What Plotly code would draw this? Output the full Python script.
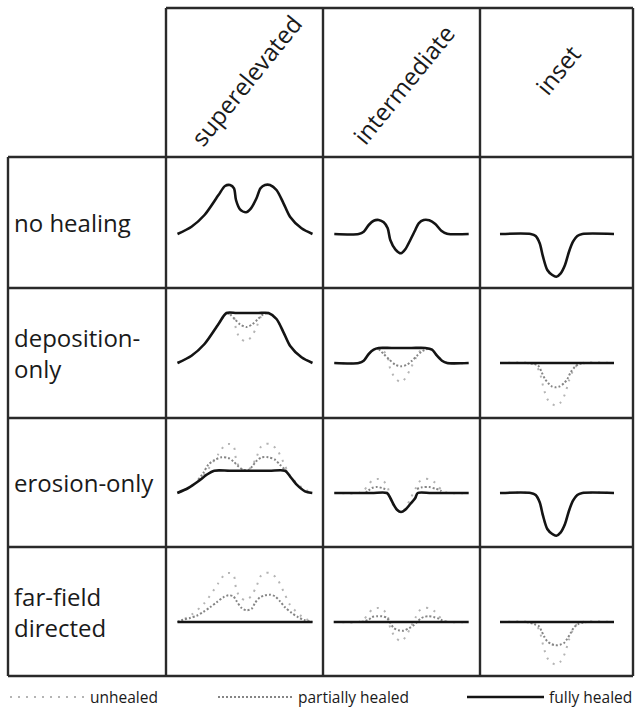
"""Channel-profile healing scenarios drawn as a 4x3 table of small profiles."""

import plotly.graph_objects as go

W, H = 635, 711
FONT = "Open Sans"

# table geometry (pixels)
COL_EDGES = [166, 323, 480, 633]
ROW_EDGES = [157, 288, 418, 547, 676]
BASELINES = [234, 363, 493, 622]
LABEL_LEFT = 8
HEADER_TOP = 8

COLUMNS = ["superelevated", "intermediate", "inset"]
ROWS = ["no healing", "deposition-<br>only", "erosion-only", "far-field<br>directed"]

# unhealed profiles: distance from cell centre, elevation above floodplain
SUPER_X = [-67, -53, -40, -26, -19.5, -14.5, -10.5, -8.5, -4.5, 1.5, 6.5, 12, 16, 20.5, 25.5, 32, 39, 45.5, 57, 68]
SUPER_Z = [0, 7.3, 19, 39, 48, 49, 45.7, 34, 24.7, 21.7, 25.7, 35.7, 45.7, 49, 49, 44, 30.7, 17.3, 5.7, 0]
INTER_X = [-67.2, -42.8, -37.8, -32.8, -27.8, -22.8, -17.8, -13.8, -11.2, -6.2, -0.5, 3.8, 8.8, 13.8, 17.2, 22.2, 27.8, 33.8, 39.8, 45.5, 67.2]
INTER_Z = [0, 0, 2.3, 9, 13.3, 14, 11.7, 5.7, -6, -15.3, -19.3, -15.3, -6, 4, 10.7, 14, 13.7, 10, 3.3, 0.3, 0]
INSET_X = [-56.5, -25.8, -20.8, -16.8, -13.5, -9.2, -4.2, -0.2, 4.2, 8.5, 12.5, 16.5, 20.8, 25.8, 57.5]
INSET_Z = [0, 0, -2, -9.3, -22.7, -36, -41, -42.7, -39.3, -31, -17.7, -7.7, -2, 0, 0]

# deposition-only
SUPER_DEP_FULL_X = [-67, -53, -40, -26, -18, -8, 4, 14, 24, 32, 39, 45.5, 57, 68]
SUPER_DEP_FULL_Z = [0, 7.3, 19, 39, 50, 50, 50, 50, 50, 44, 30.7, 17.3, 5.7, 0]
SUPER_DEP_PART_X = [-18, -14.5, -9.5, -4.5, 2.2, 7.8, 13.2, 18.8, 24]
SUPER_DEP_PART_Z = [50, 48.7, 43.7, 38.7, 36, 38.7, 43.7, 48.7, 50]
INTER_DEP_FULL_X = [-67.2, -42.8, -37.8, -32.8, -27.8, -22.8, -10, 10, 23.8, 30.5, 35.5, 40.5, 45.5, 67.2]
INTER_DEP_FULL_Z = [0, 0, 2.3, 9, 13.3, 15, 15, 15, 15, 13.3, 7.3, 2.3, 0, 0]
INTER_DEP_PART_X = [-22.8, -17.8, -12.8, -6.2, -0.5, 5.5, 10.5, 15.5, 20.5, 25.5]
INTER_DEP_PART_Z = [14, 9, 4, -1.7, -3.3, -1.7, 2.3, 7.3, 11.7, 14]
INSET_DEP_FULL_X = [-56.5, 57.5]
INSET_DEP_FULL_Z = [0, 0]
INSET_DEP_PART_X = [-30, -22.5, -18.2, -14.8, -11.5, -8.2, -4.8, -0.8, 3.2, 7.5, 10.8, 14.2, 18.5, 22.5, 30]
INSET_DEP_PART_Z = [0, -1, -2.7, -9.3, -16, -20.3, -23.3, -24.3, -23.3, -20.3, -16, -9.3, -3.7, -1, 0]

# erosion-only
SUPER_ERO_FULL_X = [-67.2, -56.2, -46.2, -37.8, -30.2, -15, 5, 25, 40.5, 45.5, 52.2, 60.5, 67.8]
SUPER_ERO_FULL_Z = [0, 5, 11.7, 18.3, 22.3, 22.3, 22.3, 22.3, 22.3, 16.7, 8.3, 1.7, 0]
SUPER_ERO_PART_X = [-46.2, -41.2, -36.2, -29.5, -22.8, -16.2, -11.2, -6.2, -1.2, 3.8, 7.8, 12.2, 17.2, 23.8, 30.5, 35.5, 40.5, 43.8]
SUPER_ERO_PART_Z = [13.3, 20, 28.3, 33.3, 35.7, 35, 31.7, 26.7, 23.3, 22.7, 26.7, 32.3, 35.7, 35.7, 33.3, 28.3, 23.3, 21]
INTER_ERO_FULL_X = [-67.2, -30, -14.5, -11.2, -7.8, -4.5, -0.5, 3.8, 8.8, 13.8, 16.2, 30, 67.2]
INTER_ERO_FULL_Z = [0, 0, 0, -5, -11.7, -16.7, -19, -16.7, -11, -5, 0, 0, 0]
INTER_ERO_PART_X = [-36, -32.8, -29.5, -24.5, -19.5, -14.5, None, 15.5, 20.5, 27.8, 33.8, 38.8, 42]
INTER_ERO_PART_Z = [0, 2.7, 5, 6, 5, 3.3, None, 4, 5.7, 6, 4.3, 2.7, 0]

# far-field directed
SUPER_FF_FULL_X = [-67, 68]
SUPER_FF_FULL_Z = [0, 0]
SUPER_FF_PART_X = [-67, -61.2, -54.5, -47.8, -41.2, -34.5, -27.8, -21.2, -16.2, -11.2, -7.8, -2.8, 2.2, 7.2, 10.5, 15.5, 20.5, 25.5, 30.5, 35.5, 40.5, 47.2, 53.8, 59.8, 68]
SUPER_FF_PART_Z = [0, 2.3, 4, 6.3, 10, 14.7, 19.7, 24.7, 26.7, 25.7, 20.7, 14, 11.7, 13.3, 19, 24.7, 26.7, 27.3, 25.7, 20.7, 14.7, 9, 4.7, 2, 0]
INTER_FF_FULL_X = [-67.8, 67.2]
INTER_FF_FULL_Z = [0, 0]
INTER_FF_PART_X = [-40, -32.8, -29.5, -24.5, -19.5, -14.5, -11.2, -7.8, -2.8, 2.2, 7.8, 12.2, 15.5, 19, 22.2, 27.2, 32.2, 37.2, 40.5, 45]
INTER_FF_PART_Z = [0, 2.3, 5, 5.7, 5.7, 4, -1, -6, -8.3, -8.7, -6, -3.3, 0, 3.3, 5, 5.7, 5, 3.3, 1.7, 0]
INSET_FF_FULL_X = [-56.5, 57.5]
INSET_FF_FULL_Z = [0, 0]
INSET_FF_PART_X = [-30, -22.5, -17.5, -14.8, -12.5, -9.2, -5.2, -0.8, 3.5, 7.5, 10.8, 14.2, 17.5, 21.8, 30]
INSET_FF_PART_Z = [0, -2, -4.3, -9.3, -14.3, -19.3, -22, -23.3, -22.7, -21, -16.7, -11, -5.3, -2, 0]

UNHEALED = [(SUPER_X, SUPER_Z), (INTER_X, INTER_Z), (INSET_X, INSET_Z)]
# (full_x, full_z, partial_x, partial_z) per row/column
CELLS = [
    [(SUPER_X, SUPER_Z, None, None), (INTER_X, INTER_Z, None, None), (INSET_X, INSET_Z, None, None)],
    [(SUPER_DEP_FULL_X, SUPER_DEP_FULL_Z, SUPER_DEP_PART_X, SUPER_DEP_PART_Z),
     (INTER_DEP_FULL_X, INTER_DEP_FULL_Z, INTER_DEP_PART_X, INTER_DEP_PART_Z),
     (INSET_DEP_FULL_X, INSET_DEP_FULL_Z, INSET_DEP_PART_X, INSET_DEP_PART_Z)],
    [(SUPER_ERO_FULL_X, SUPER_ERO_FULL_Z, SUPER_ERO_PART_X, SUPER_ERO_PART_Z),
     (INTER_ERO_FULL_X, INTER_ERO_FULL_Z, INTER_ERO_PART_X, INTER_ERO_PART_Z),
     (INSET_X, INSET_Z, None, None)],
    [(SUPER_FF_FULL_X, SUPER_FF_FULL_Z, SUPER_FF_PART_X, SUPER_FF_PART_Z),
     (INTER_FF_FULL_X, INTER_FF_FULL_Z, INTER_FF_PART_X, INTER_FF_PART_Z),
     (INSET_FF_FULL_X, INSET_FF_FULL_Z, INSET_FF_PART_X, INSET_FF_PART_Z)],
]

UNHEALED_STYLE = dict(color="#b4b4b4", width=2, dash="2px,6px")
PARTIAL_STYLE = dict(color="#858585", width=2, dash="2px,2px")
FULL_STYLE = dict(color="#141414", width=2.6)
GRID_COLOR = "#2a2a2a"


def px(x):
    return x / W


def py(y):
    return 1 - y / H


fig = go.Figure()
layout = {}
for r in range(4):
    top, bottom, base = ROW_EDGES[r], ROW_EDGES[r + 1], BASELINES[r]
    for c in range(3):
        left, right = COL_EDGES[c], COL_EDGES[c + 1]
        k = r * 3 + c + 1
        suffix = "" if k == 1 else str(k)
        xa, ya = "x" + suffix, "y" + suffix
        ux, uz = UNHEALED[c]
        fx, fz, pxs, pzs = CELLS[r][c]
        if r > 0:
            fig.add_trace(go.Scatter(x=ux, y=uz, xaxis=xa, yaxis=ya, mode="lines",
                                     line=dict(shape="spline", smoothing=0.8, **UNHEALED_STYLE)))
        if pxs is not None:
            fig.add_trace(go.Scatter(x=pxs, y=pzs, xaxis=xa, yaxis=ya, mode="lines",
                                     line=dict(shape="spline", smoothing=0.8, **PARTIAL_STYLE)))
        fig.add_trace(go.Scatter(x=fx, y=fz, xaxis=xa, yaxis=ya, mode="lines",
                                 line=dict(shape="spline", smoothing=0.8, **FULL_STYLE)))
        half = (right - left) / 2
        layout["xaxis" + suffix] = dict(domain=[px(left), px(right)], range=[-half, half],
                                        visible=False, fixedrange=True, anchor=ya)
        layout["yaxis" + suffix] = dict(domain=[py(bottom), py(top)], range=[base - bottom, base - top],
                                        visible=False, fixedrange=True, anchor=xa)

shapes = []


def seg(x0, y0, x1, y1, **line):
    shapes.append(dict(type="line", xref="paper", yref="paper", x0=px(x0), y0=py(y0),
                       x1=px(x1), y1=py(y1), line=line or dict(color=GRID_COLOR, width=2.4)))


# table rules
seg(COL_EDGES[0], HEADER_TOP, COL_EDGES[-1], HEADER_TOP)
for y in ROW_EDGES:
    seg(LABEL_LEFT, y, COL_EDGES[-1], y)
for x in COL_EDGES:
    seg(x, HEADER_TOP, x, ROW_EDGES[-1])
seg(LABEL_LEFT, ROW_EDGES[0], LABEL_LEFT, ROW_EDGES[-1])

annotations = []
header_pos = [(246, 81), (403, 84), (558, 70)]
for name, (hx, hy) in zip(COLUMNS, header_pos):
    annotations.append(dict(text=name, x=px(hx), y=py(hy), xref="paper", yref="paper",
                            xanchor="center", yanchor="middle", showarrow=False, textangle=-51,
                            font=dict(family=FONT, size=24, color="#1a1a1a")))
for r, name in enumerate(ROWS):
    yc = (ROW_EDGES[r] + ROW_EDGES[r + 1]) / 2
    annotations.append(dict(text=name, x=px(12), y=py(yc), xref="paper", yref="paper",
                            xanchor="left", yanchor="middle", align="left", showarrow=False,
                            font=dict(family=FONT, size=24, color="#1a1a1a")))

# legend
LEGEND_Y = 697
legend_items = [("unhealed", 10, 85, UNHEALED_STYLE), ("partially healed", 218, 293, PARTIAL_STYLE),
                ("fully healed", 467, 544, FULL_STYLE)]
for label, x0, x1, style in legend_items:
    seg(x0, LEGEND_Y, x1, LEGEND_Y, **style)
    annotations.append(dict(text=label, x=px(x1 + 3), y=py(LEGEND_Y), xref="paper", yref="paper",
                            xanchor="left", yanchor="middle", showarrow=False,
                            font=dict(family=FONT, size=15.5, color="#1a1a1a")))

fig.update_layout(width=W, height=H, margin=dict(l=0, r=0, t=0, b=0), showlegend=False,
                  paper_bgcolor="white", plot_bgcolor="white", shapes=shapes,
                  annotations=annotations, **layout)
# drop the page's default body margin so the figure fills the window exactly
fig.write_html("out.html", config={"displayModeBar": False},
               post_script="document.body.style.margin='0';document.body.style.overflow='hidden';")
